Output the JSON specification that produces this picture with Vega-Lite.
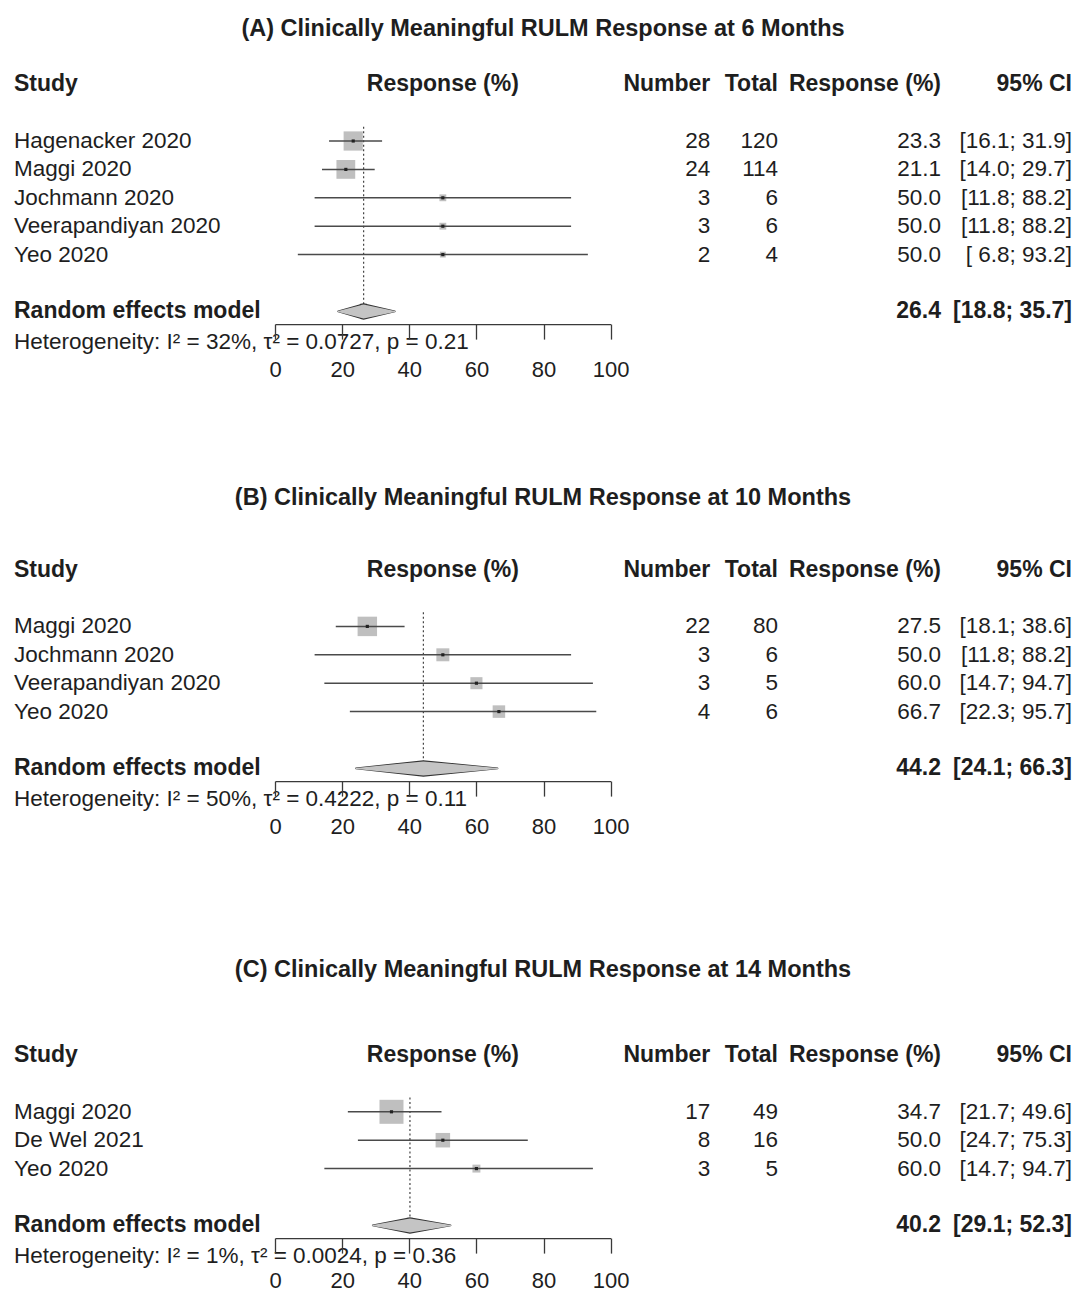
{
  "$schema": "https://vega.github.io/schema/vega-lite/v6.json",
  "background": "white",
  "padding": {"left": 14, "top": 17, "right": 3, "bottom": 0},
  "config": {
    "view": {"stroke": null},
    "font": "Liberation Sans",
    "text": {"font": "Liberation Sans", "fontSize": 22.5, "color": "#1e1e1e"},
    "title": {"font": "Liberation Sans", "fontSize": 23.5, "fontWeight": "bold", "color": "#1e1e1e", "anchor": "middle"},
    "axis": {"grid": false, "domainColor": "#3a3a3a", "domainWidth": 1.3, "tickColor": "#3a3a3a", "tickWidth": 1.3, "tickSize": 15, "labelFont": "Liberation Sans", "labelFontSize": 22, "labelColor": "#1e1e1e", "labelPadding": 20.5, "labelFlush": false, "labelOverlap": false}
  },
  "datasets": {
    "headers": [
      {"row": "header", "col": "study", "label": "Study"},
      {"row": "header", "col": "plot", "label": "Response (%)"},
      {"row": "header", "col": "number", "label": "Number"},
      {"row": "header", "col": "total", "label": "Total"},
      {"row": "header", "col": "resp", "label": "Response (%)"},
      {"row": "header", "col": "ci", "label": "95% CI"}
    ],
    "studiesA": [
      {"row": "Hagenacker 2020", "events": 28, "total": 120, "resp": 23.3, "lower": 16.1, "upper": 31.9, "ci": "[16.1; 31.9]", "weight": 43.5},
      {"row": "Maggi 2020", "events": 24, "total": 114, "resp": 21.1, "lower": 14.0, "upper": 29.7, "ci": "[14.0; 29.7]", "weight": 41.5},
      {"row": "Jochmann 2020", "events": 3, "total": 6, "resp": 50.0, "lower": 11.8, "upper": 88.2, "ci": "[11.8; 88.2]", "weight": 5.5},
      {"row": "Veerapandiyan 2020", "events": 3, "total": 6, "resp": 50.0, "lower": 11.8, "upper": 88.2, "ci": "[11.8; 88.2]", "weight": 5.5},
      {"row": "Yeo 2020", "events": 2, "total": 4, "resp": 50.0, "lower": 6.8, "upper": 93.2, "ci": "[ 6.8; 93.2]", "weight": 4.0}
    ],
    "pooledA": [
      {"row": "Random effects model", "resp": 26.4, "lower": 18.8, "upper": 35.7, "ci": "[18.8; 35.7]", "het": "Heterogeneity: I² = 32%, τ² = 0.0727, p = 0.21"}
    ],
    "studiesB": [
      {"row": "Maggi 2020", "events": 22, "total": 80, "resp": 27.5, "lower": 18.1, "upper": 38.6, "ci": "[18.1; 38.6]", "weight": 44.6},
      {"row": "Jochmann 2020", "events": 3, "total": 6, "resp": 50.0, "lower": 11.8, "upper": 88.2, "ci": "[11.8; 88.2]", "weight": 19.8},
      {"row": "Veerapandiyan 2020", "events": 3, "total": 5, "resp": 60.0, "lower": 14.7, "upper": 94.7, "ci": "[14.7; 94.7]", "weight": 17.2},
      {"row": "Yeo 2020", "events": 4, "total": 6, "resp": 66.7, "lower": 22.3, "upper": 95.7, "ci": "[22.3; 95.7]", "weight": 18.4}
    ],
    "pooledB": [
      {"row": "Random effects model", "resp": 44.2, "lower": 24.1, "upper": 66.3, "ci": "[24.1; 66.3]", "het": "Heterogeneity: I² = 50%, τ² = 0.4222, p = 0.11"}
    ],
    "studiesC": [
      {"row": "Maggi 2020", "events": 17, "total": 49, "resp": 34.7, "lower": 21.7, "upper": 49.6, "ci": "[21.7; 49.6]", "weight": 67.8},
      {"row": "De Wel 2021", "events": 8, "total": 16, "resp": 50.0, "lower": 24.7, "upper": 75.3, "ci": "[24.7; 75.3]", "weight": 24.8},
      {"row": "Yeo 2020", "events": 3, "total": 5, "resp": 60.0, "lower": 14.7, "upper": 94.7, "ci": "[14.7; 94.7]", "weight": 7.4}
    ],
    "pooledC": [
      {"row": "Random effects model", "resp": 40.2, "lower": 29.1, "upper": 52.3, "ci": "[29.1; 52.3]", "het": "Heterogeneity: I² = 1%, τ² = 0.0024, p = 0.36"}
    ]
  },
  "spacing": 119.8,
  "vconcat": [
    {
      "spacing": 105.4,
      "vconcat": [
        {
          "title": {"text": "(A) Clinically Meaningful RULM Response at 6 Months", "offset": 29.5},
          "spacing": 0,
          "bounds": "flush",
          "hconcat": [
            {
              "width": 261, "height": 255.6,
              "encoding": {"y": {"field": "row", "type": "nominal", "axis": null, "scale": {"type": "band", "paddingInner": 0, "paddingOuter": 0, "domain": ["header", "gap1", "Hagenacker 2020", "Maggi 2020", "Jochmann 2020", "Veerapandiyan 2020", "Yeo 2020", "gap2", "Random effects model"]}}},
              "layer": [
                {"data": {"name": "headers"}, "transform": [{"filter": "datum.col == 'study'"}], "mark": {"type": "text", "align": "left", "baseline": "middle", "fontWeight": "bold", "fontSize": 23}, "encoding": {"x": {"value": 0}, "text": {"field": "label"}}},
                {"data": {"name": "studiesA"}, "mark": {"type": "text", "align": "left", "baseline": "middle"}, "encoding": {"x": {"value": 0}, "text": {"field": "row"}}},
                {"data": {"name": "pooledA"}, "mark": {"type": "text", "align": "left", "baseline": "middle", "fontWeight": "bold", "fontSize": 23}, "encoding": {"x": {"value": 0}, "text": {"field": "row"}}},
                {"data": {"name": "pooledA"}, "mark": {"type": "text", "align": "left", "baseline": "middle", "dy": 31}, "encoding": {"x": {"value": 0}, "text": {"field": "het"}}}
              ]
            },
            {
              "width": 335.7, "height": 255.6,
              "encoding": {"y": {"field": "row", "type": "nominal", "axis": null, "scale": {"type": "band", "paddingInner": 0, "paddingOuter": 0, "domain": ["header", "gap1", "Hagenacker 2020", "Maggi 2020", "Jochmann 2020", "Veerapandiyan 2020", "Yeo 2020", "gap2", "Random effects model"]}}},
              "layer": [
                {"data": {"name": "headers"}, "transform": [{"filter": "datum.col == 'plot'"}], "mark": {"type": "text", "align": "center", "baseline": "middle", "fontWeight": "bold", "fontSize": 23}, "encoding": {"x": {"datum": 50, "type": "quantitative", "scale": {"domain": [0, 100]}, "title": null}, "text": {"field": "label"}}},
                {"data": {"name": "pooledA"}, "mark": {"type": "rule", "color": "#444444", "strokeWidth": 1.2, "strokeDash": [2, 2.5]},
                 "encoding": {"x": {"field": "resp", "type": "quantitative", "title": null},
                              "y": {"datum": "gap1", "type": "nominal", "bandPosition": 1, "axis": null, "scale": {"type": "band", "paddingInner": 0, "paddingOuter": 0, "domain": ["header", "gap1", "Hagenacker 2020", "Maggi 2020", "Jochmann 2020", "Veerapandiyan 2020", "Yeo 2020", "gap2", "Random effects model"]}},
                              "y2": {"datum": "Random effects model"}}},
                {"data": {"name": "studiesA"}, "mark": {"type": "point", "shape": "square", "filled": true, "color": "#bfbfbf", "opacity": 1},
                 "encoding": {"x": {"field": "resp", "type": "quantitative", "title": null, "axis": {"values": [0, 20, 40, 60, 80, 100], "offset": -1.5}},
                              "size": {"field": "weight", "type": "quantitative", "legend": null, "scale": {"range": [0, 576], "zero": true}}}},
                {"data": {"name": "studiesA"}, "mark": {"type": "rule", "color": "#4a4a4a", "strokeWidth": 1.5},
                 "encoding": {"x": {"field": "lower", "type": "quantitative", "title": null}, "x2": {"field": "upper"}}},
                {"data": {"name": "studiesA"}, "mark": {"type": "point", "shape": "square", "filled": true, "color": "#222222", "size": 10, "opacity": 1},
                 "encoding": {"x": {"field": "resp", "type": "quantitative", "title": null}}},
                {"data": {"name": "pooledA"}, "transform": [{"fold": ["lower", "resp", "upper"], "as": ["vertex", "value"]}],
                 "mark": {"type": "trail", "fill": "#333333"},
                 "encoding": {"x": {"field": "value", "type": "quantitative", "title": null},
                              "size": {"condition": {"test": "datum.vertex === 'resp'", "value": 16.5}, "value": 1.6},
                              "order": {"field": "value", "type": "quantitative"}}},
                {"data": {"name": "pooledA"}, "transform": [{"fold": ["lower", "resp", "upper"], "as": ["vertex", "value"]}],
                 "mark": {"type": "trail", "fill": "#c4c4c4"},
                 "encoding": {"x": {"field": "value", "type": "quantitative", "title": null},
                              "size": {"condition": {"test": "datum.vertex === 'resp'", "value": 14}, "value": 0},
                              "order": {"field": "value", "type": "quantitative"}}}
              ]
            },
            {
              "width": 99.3, "height": 255.6,
              "encoding": {"y": {"field": "row", "type": "nominal", "axis": null, "scale": {"type": "band", "paddingInner": 0, "paddingOuter": 0, "domain": ["header", "gap1", "Hagenacker 2020", "Maggi 2020", "Jochmann 2020", "Veerapandiyan 2020", "Yeo 2020", "gap2", "Random effects model"]}}},
              "layer": [
                {"data": {"name": "headers"}, "transform": [{"filter": "datum.col == 'number'"}], "mark": {"type": "text", "align": "right", "baseline": "middle", "fontWeight": "bold", "fontSize": 23}, "encoding": {"x": {"value": "width"}, "text": {"field": "label"}}},
                {"data": {"name": "studiesA"}, "mark": {"type": "text", "align": "right", "baseline": "middle"}, "encoding": {"x": {"value": "width"}, "text": {"field": "events", "type": "quantitative"}}}
              ]
            },
            {
              "width": 67, "height": 255.6,
              "encoding": {"y": {"field": "row", "type": "nominal", "axis": null, "scale": {"type": "band", "paddingInner": 0, "paddingOuter": 0, "domain": ["header", "gap1", "Hagenacker 2020", "Maggi 2020", "Jochmann 2020", "Veerapandiyan 2020", "Yeo 2020", "gap2", "Random effects model"]}}},
              "layer": [
                {"data": {"name": "headers"}, "transform": [{"filter": "datum.col == 'total'"}], "mark": {"type": "text", "align": "right", "baseline": "middle", "fontWeight": "bold", "fontSize": 23}, "encoding": {"x": {"value": "width"}, "text": {"field": "label"}}},
                {"data": {"name": "studiesA"}, "mark": {"type": "text", "align": "right", "baseline": "middle"}, "encoding": {"x": {"value": "width"}, "text": {"field": "total", "type": "quantitative"}}}
              ]
            },
            {
              "width": 163, "height": 255.6,
              "encoding": {"y": {"field": "row", "type": "nominal", "axis": null, "scale": {"type": "band", "paddingInner": 0, "paddingOuter": 0, "domain": ["header", "gap1", "Hagenacker 2020", "Maggi 2020", "Jochmann 2020", "Veerapandiyan 2020", "Yeo 2020", "gap2", "Random effects model"]}}},
              "layer": [
                {"data": {"name": "headers"}, "transform": [{"filter": "datum.col == 'resp'"}], "mark": {"type": "text", "align": "right", "baseline": "middle", "fontWeight": "bold", "fontSize": 23}, "encoding": {"x": {"value": "width"}, "text": {"field": "label"}}},
                {"data": {"name": "studiesA"}, "mark": {"type": "text", "align": "right", "baseline": "middle"}, "encoding": {"x": {"value": "width"}, "text": {"field": "resp", "type": "quantitative", "format": ".1f"}}},
                {"data": {"name": "pooledA"}, "mark": {"type": "text", "align": "right", "baseline": "middle", "fontWeight": "bold", "fontSize": 23}, "encoding": {"x": {"value": "width"}, "text": {"field": "resp", "type": "quantitative", "format": ".1f"}}}
              ]
            },
            {
              "width": 131, "height": 255.6,
              "encoding": {"y": {"field": "row", "type": "nominal", "axis": null, "scale": {"type": "band", "paddingInner": 0, "paddingOuter": 0, "domain": ["header", "gap1", "Hagenacker 2020", "Maggi 2020", "Jochmann 2020", "Veerapandiyan 2020", "Yeo 2020", "gap2", "Random effects model"]}}},
              "layer": [
                {"data": {"name": "headers"}, "transform": [{"filter": "datum.col == 'ci'"}], "mark": {"type": "text", "align": "right", "baseline": "middle", "fontWeight": "bold", "fontSize": 23}, "encoding": {"x": {"value": "width"}, "text": {"field": "label"}}},
                {"data": {"name": "studiesA"}, "mark": {"type": "text", "align": "right", "baseline": "middle"}, "encoding": {"x": {"value": "width"}, "text": {"field": "ci"}}},
                {"data": {"name": "pooledA"}, "mark": {"type": "text", "align": "right", "baseline": "middle", "fontWeight": "bold", "fontSize": 23}, "encoding": {"x": {"value": "width"}, "text": {"field": "ci"}}}
              ]
            }
          ]
        },
        {
          "title": {"text": "(B) Clinically Meaningful RULM Response at 10 Months", "offset": 45.5},
          "spacing": 0,
          "bounds": "flush",
          "hconcat": [
            {
              "width": 261, "height": 227.2,
              "encoding": {"y": {"field": "row", "type": "nominal", "axis": null, "scale": {"type": "band", "paddingInner": 0, "paddingOuter": 0, "domain": ["header", "gap1", "Maggi 2020", "Jochmann 2020", "Veerapandiyan 2020", "Yeo 2020", "gap2", "Random effects model"]}}},
              "layer": [
                {"data": {"name": "headers"}, "transform": [{"filter": "datum.col == 'study'"}], "mark": {"type": "text", "align": "left", "baseline": "middle", "fontWeight": "bold", "fontSize": 23}, "encoding": {"x": {"value": 0}, "text": {"field": "label"}}},
                {"data": {"name": "studiesB"}, "mark": {"type": "text", "align": "left", "baseline": "middle"}, "encoding": {"x": {"value": 0}, "text": {"field": "row"}}},
                {"data": {"name": "pooledB"}, "mark": {"type": "text", "align": "left", "baseline": "middle", "fontWeight": "bold", "fontSize": 23}, "encoding": {"x": {"value": 0}, "text": {"field": "row"}}},
                {"data": {"name": "pooledB"}, "mark": {"type": "text", "align": "left", "baseline": "middle", "dy": 31}, "encoding": {"x": {"value": 0}, "text": {"field": "het"}}}
              ]
            },
            {
              "width": 335.7, "height": 227.2,
              "encoding": {"y": {"field": "row", "type": "nominal", "axis": null, "scale": {"type": "band", "paddingInner": 0, "paddingOuter": 0, "domain": ["header", "gap1", "Maggi 2020", "Jochmann 2020", "Veerapandiyan 2020", "Yeo 2020", "gap2", "Random effects model"]}}},
              "layer": [
                {"data": {"name": "headers"}, "transform": [{"filter": "datum.col == 'plot'"}], "mark": {"type": "text", "align": "center", "baseline": "middle", "fontWeight": "bold", "fontSize": 23}, "encoding": {"x": {"datum": 50, "type": "quantitative", "scale": {"domain": [0, 100]}, "title": null}, "text": {"field": "label"}}},
                {"data": {"name": "pooledB"}, "mark": {"type": "rule", "color": "#444444", "strokeWidth": 1.2, "strokeDash": [2, 2.5]},
                 "encoding": {"x": {"field": "resp", "type": "quantitative", "title": null},
                              "y": {"datum": "gap1", "type": "nominal", "bandPosition": 1, "axis": null, "scale": {"type": "band", "paddingInner": 0, "paddingOuter": 0, "domain": ["header", "gap1", "Maggi 2020", "Jochmann 2020", "Veerapandiyan 2020", "Yeo 2020", "gap2", "Random effects model"]}},
                              "y2": {"datum": "Random effects model"}}},
                {"data": {"name": "studiesB"}, "mark": {"type": "point", "shape": "square", "filled": true, "color": "#bfbfbf", "opacity": 1},
                 "encoding": {"x": {"field": "resp", "type": "quantitative", "title": null, "axis": {"values": [0, 20, 40, 60, 80, 100], "offset": -1.5}},
                              "size": {"field": "weight", "type": "quantitative", "legend": null, "scale": {"range": [0, 576], "zero": true}}}},
                {"data": {"name": "studiesB"}, "mark": {"type": "rule", "color": "#4a4a4a", "strokeWidth": 1.5},
                 "encoding": {"x": {"field": "lower", "type": "quantitative", "title": null}, "x2": {"field": "upper"}}},
                {"data": {"name": "studiesB"}, "mark": {"type": "point", "shape": "square", "filled": true, "color": "#222222", "size": 10, "opacity": 1},
                 "encoding": {"x": {"field": "resp", "type": "quantitative", "title": null}}},
                {"data": {"name": "pooledB"}, "transform": [{"fold": ["lower", "resp", "upper"], "as": ["vertex", "value"]}],
                 "mark": {"type": "trail", "fill": "#333333"},
                 "encoding": {"x": {"field": "value", "type": "quantitative", "title": null},
                              "size": {"condition": {"test": "datum.vertex === 'resp'", "value": 16.5}, "value": 1.6},
                              "order": {"field": "value", "type": "quantitative"}}},
                {"data": {"name": "pooledB"}, "transform": [{"fold": ["lower", "resp", "upper"], "as": ["vertex", "value"]}],
                 "mark": {"type": "trail", "fill": "#c4c4c4"},
                 "encoding": {"x": {"field": "value", "type": "quantitative", "title": null},
                              "size": {"condition": {"test": "datum.vertex === 'resp'", "value": 14}, "value": 0},
                              "order": {"field": "value", "type": "quantitative"}}}
              ]
            },
            {
              "width": 99.3, "height": 227.2,
              "encoding": {"y": {"field": "row", "type": "nominal", "axis": null, "scale": {"type": "band", "paddingInner": 0, "paddingOuter": 0, "domain": ["header", "gap1", "Maggi 2020", "Jochmann 2020", "Veerapandiyan 2020", "Yeo 2020", "gap2", "Random effects model"]}}},
              "layer": [
                {"data": {"name": "headers"}, "transform": [{"filter": "datum.col == 'number'"}], "mark": {"type": "text", "align": "right", "baseline": "middle", "fontWeight": "bold", "fontSize": 23}, "encoding": {"x": {"value": "width"}, "text": {"field": "label"}}},
                {"data": {"name": "studiesB"}, "mark": {"type": "text", "align": "right", "baseline": "middle"}, "encoding": {"x": {"value": "width"}, "text": {"field": "events", "type": "quantitative"}}}
              ]
            },
            {
              "width": 67, "height": 227.2,
              "encoding": {"y": {"field": "row", "type": "nominal", "axis": null, "scale": {"type": "band", "paddingInner": 0, "paddingOuter": 0, "domain": ["header", "gap1", "Maggi 2020", "Jochmann 2020", "Veerapandiyan 2020", "Yeo 2020", "gap2", "Random effects model"]}}},
              "layer": [
                {"data": {"name": "headers"}, "transform": [{"filter": "datum.col == 'total'"}], "mark": {"type": "text", "align": "right", "baseline": "middle", "fontWeight": "bold", "fontSize": 23}, "encoding": {"x": {"value": "width"}, "text": {"field": "label"}}},
                {"data": {"name": "studiesB"}, "mark": {"type": "text", "align": "right", "baseline": "middle"}, "encoding": {"x": {"value": "width"}, "text": {"field": "total", "type": "quantitative"}}}
              ]
            },
            {
              "width": 163, "height": 227.2,
              "encoding": {"y": {"field": "row", "type": "nominal", "axis": null, "scale": {"type": "band", "paddingInner": 0, "paddingOuter": 0, "domain": ["header", "gap1", "Maggi 2020", "Jochmann 2020", "Veerapandiyan 2020", "Yeo 2020", "gap2", "Random effects model"]}}},
              "layer": [
                {"data": {"name": "headers"}, "transform": [{"filter": "datum.col == 'resp'"}], "mark": {"type": "text", "align": "right", "baseline": "middle", "fontWeight": "bold", "fontSize": 23}, "encoding": {"x": {"value": "width"}, "text": {"field": "label"}}},
                {"data": {"name": "studiesB"}, "mark": {"type": "text", "align": "right", "baseline": "middle"}, "encoding": {"x": {"value": "width"}, "text": {"field": "resp", "type": "quantitative", "format": ".1f"}}},
                {"data": {"name": "pooledB"}, "mark": {"type": "text", "align": "right", "baseline": "middle", "fontWeight": "bold", "fontSize": 23}, "encoding": {"x": {"value": "width"}, "text": {"field": "resp", "type": "quantitative", "format": ".1f"}}}
              ]
            },
            {
              "width": 131, "height": 227.2,
              "encoding": {"y": {"field": "row", "type": "nominal", "axis": null, "scale": {"type": "band", "paddingInner": 0, "paddingOuter": 0, "domain": ["header", "gap1", "Maggi 2020", "Jochmann 2020", "Veerapandiyan 2020", "Yeo 2020", "gap2", "Random effects model"]}}},
              "layer": [
                {"data": {"name": "headers"}, "transform": [{"filter": "datum.col == 'ci'"}], "mark": {"type": "text", "align": "right", "baseline": "middle", "fontWeight": "bold", "fontSize": 23}, "encoding": {"x": {"value": "width"}, "text": {"field": "label"}}},
                {"data": {"name": "studiesB"}, "mark": {"type": "text", "align": "right", "baseline": "middle"}, "encoding": {"x": {"value": "width"}, "text": {"field": "ci"}}},
                {"data": {"name": "pooledB"}, "mark": {"type": "text", "align": "right", "baseline": "middle", "fontWeight": "bold", "fontSize": 23}, "encoding": {"x": {"value": "width"}, "text": {"field": "ci"}}}
              ]
            }
          ]
        }
      ]
    },
    {
      "title": {"text": "(C) Clinically Meaningful RULM Response at 14 Months", "offset": 59.5},
      "spacing": 0,
      "bounds": "flush",
      "hconcat": [
        {
          "width": 261, "height": 198.8,
          "encoding": {"y": {"field": "row", "type": "nominal", "axis": null, "scale": {"type": "band", "paddingInner": 0, "paddingOuter": 0, "domain": ["header", "gap1", "Maggi 2020", "De Wel 2021", "Yeo 2020", "gap2", "Random effects model"]}}},
          "layer": [
            {"data": {"name": "headers"}, "transform": [{"filter": "datum.col == 'study'"}], "mark": {"type": "text", "align": "left", "baseline": "middle", "fontWeight": "bold", "fontSize": 23}, "encoding": {"x": {"value": 0}, "text": {"field": "label"}}},
            {"data": {"name": "studiesC"}, "mark": {"type": "text", "align": "left", "baseline": "middle"}, "encoding": {"x": {"value": 0}, "text": {"field": "row"}}},
            {"data": {"name": "pooledC"}, "mark": {"type": "text", "align": "left", "baseline": "middle", "fontWeight": "bold", "fontSize": 23}, "encoding": {"x": {"value": 0}, "text": {"field": "row"}}},
            {"data": {"name": "pooledC"}, "mark": {"type": "text", "align": "left", "baseline": "middle", "dy": 31}, "encoding": {"x": {"value": 0}, "text": {"field": "het"}}}
          ]
        },
        {
          "width": 335.7, "height": 198.8,
          "encoding": {"y": {"field": "row", "type": "nominal", "axis": null, "scale": {"type": "band", "paddingInner": 0, "paddingOuter": 0, "domain": ["header", "gap1", "Maggi 2020", "De Wel 2021", "Yeo 2020", "gap2", "Random effects model"]}}},
          "layer": [
            {"data": {"name": "headers"}, "transform": [{"filter": "datum.col == 'plot'"}], "mark": {"type": "text", "align": "center", "baseline": "middle", "fontWeight": "bold", "fontSize": 23}, "encoding": {"x": {"datum": 50, "type": "quantitative", "scale": {"domain": [0, 100]}, "title": null}, "text": {"field": "label"}}},
            {"data": {"name": "pooledC"}, "mark": {"type": "rule", "color": "#444444", "strokeWidth": 1.2, "strokeDash": [2, 2.5]},
             "encoding": {"x": {"field": "resp", "type": "quantitative", "title": null},
                          "y": {"datum": "gap1", "type": "nominal", "bandPosition": 1, "axis": null, "scale": {"type": "band", "paddingInner": 0, "paddingOuter": 0, "domain": ["header", "gap1", "Maggi 2020", "De Wel 2021", "Yeo 2020", "gap2", "Random effects model"]}},
                          "y2": {"datum": "Random effects model"}}},
            {"data": {"name": "studiesC"}, "mark": {"type": "point", "shape": "square", "filled": true, "color": "#bfbfbf", "opacity": 1},
             "encoding": {"x": {"field": "resp", "type": "quantitative", "title": null, "axis": {"values": [0, 20, 40, 60, 80, 100], "offset": -1.5, "labelPadding": 17}},
                          "size": {"field": "weight", "type": "quantitative", "legend": null, "scale": {"range": [0, 576], "zero": true}}}},
            {"data": {"name": "studiesC"}, "mark": {"type": "rule", "color": "#4a4a4a", "strokeWidth": 1.5},
             "encoding": {"x": {"field": "lower", "type": "quantitative", "title": null}, "x2": {"field": "upper"}}},
            {"data": {"name": "studiesC"}, "mark": {"type": "point", "shape": "square", "filled": true, "color": "#222222", "size": 10, "opacity": 1},
             "encoding": {"x": {"field": "resp", "type": "quantitative", "title": null}}},
            {"data": {"name": "pooledC"}, "transform": [{"fold": ["lower", "resp", "upper"], "as": ["vertex", "value"]}],
             "mark": {"type": "trail", "fill": "#333333"},
             "encoding": {"x": {"field": "value", "type": "quantitative", "title": null},
                          "size": {"condition": {"test": "datum.vertex === 'resp'", "value": 16.5}, "value": 1.6},
                          "order": {"field": "value", "type": "quantitative"}}},
            {"data": {"name": "pooledC"}, "transform": [{"fold": ["lower", "resp", "upper"], "as": ["vertex", "value"]}],
             "mark": {"type": "trail", "fill": "#c4c4c4"},
             "encoding": {"x": {"field": "value", "type": "quantitative", "title": null},
                          "size": {"condition": {"test": "datum.vertex === 'resp'", "value": 14}, "value": 0},
                          "order": {"field": "value", "type": "quantitative"}}}
          ]
        },
        {
          "width": 99.3, "height": 198.8,
          "encoding": {"y": {"field": "row", "type": "nominal", "axis": null, "scale": {"type": "band", "paddingInner": 0, "paddingOuter": 0, "domain": ["header", "gap1", "Maggi 2020", "De Wel 2021", "Yeo 2020", "gap2", "Random effects model"]}}},
          "layer": [
            {"data": {"name": "headers"}, "transform": [{"filter": "datum.col == 'number'"}], "mark": {"type": "text", "align": "right", "baseline": "middle", "fontWeight": "bold", "fontSize": 23}, "encoding": {"x": {"value": "width"}, "text": {"field": "label"}}},
            {"data": {"name": "studiesC"}, "mark": {"type": "text", "align": "right", "baseline": "middle"}, "encoding": {"x": {"value": "width"}, "text": {"field": "events", "type": "quantitative"}}}
          ]
        },
        {
          "width": 67, "height": 198.8,
          "encoding": {"y": {"field": "row", "type": "nominal", "axis": null, "scale": {"type": "band", "paddingInner": 0, "paddingOuter": 0, "domain": ["header", "gap1", "Maggi 2020", "De Wel 2021", "Yeo 2020", "gap2", "Random effects model"]}}},
          "layer": [
            {"data": {"name": "headers"}, "transform": [{"filter": "datum.col == 'total'"}], "mark": {"type": "text", "align": "right", "baseline": "middle", "fontWeight": "bold", "fontSize": 23}, "encoding": {"x": {"value": "width"}, "text": {"field": "label"}}},
            {"data": {"name": "studiesC"}, "mark": {"type": "text", "align": "right", "baseline": "middle"}, "encoding": {"x": {"value": "width"}, "text": {"field": "total", "type": "quantitative"}}}
          ]
        },
        {
          "width": 163, "height": 198.8,
          "encoding": {"y": {"field": "row", "type": "nominal", "axis": null, "scale": {"type": "band", "paddingInner": 0, "paddingOuter": 0, "domain": ["header", "gap1", "Maggi 2020", "De Wel 2021", "Yeo 2020", "gap2", "Random effects model"]}}},
          "layer": [
            {"data": {"name": "headers"}, "transform": [{"filter": "datum.col == 'resp'"}], "mark": {"type": "text", "align": "right", "baseline": "middle", "fontWeight": "bold", "fontSize": 23}, "encoding": {"x": {"value": "width"}, "text": {"field": "label"}}},
            {"data": {"name": "studiesC"}, "mark": {"type": "text", "align": "right", "baseline": "middle"}, "encoding": {"x": {"value": "width"}, "text": {"field": "resp", "type": "quantitative", "format": ".1f"}}},
            {"data": {"name": "pooledC"}, "mark": {"type": "text", "align": "right", "baseline": "middle", "fontWeight": "bold", "fontSize": 23}, "encoding": {"x": {"value": "width"}, "text": {"field": "resp", "type": "quantitative", "format": ".1f"}}}
          ]
        },
        {
          "width": 131, "height": 198.8,
          "encoding": {"y": {"field": "row", "type": "nominal", "axis": null, "scale": {"type": "band", "paddingInner": 0, "paddingOuter": 0, "domain": ["header", "gap1", "Maggi 2020", "De Wel 2021", "Yeo 2020", "gap2", "Random effects model"]}}},
          "layer": [
            {"data": {"name": "headers"}, "transform": [{"filter": "datum.col == 'ci'"}], "mark": {"type": "text", "align": "right", "baseline": "middle", "fontWeight": "bold", "fontSize": 23}, "encoding": {"x": {"value": "width"}, "text": {"field": "label"}}},
            {"data": {"name": "studiesC"}, "mark": {"type": "text", "align": "right", "baseline": "middle"}, "encoding": {"x": {"value": "width"}, "text": {"field": "ci"}}},
            {"data": {"name": "pooledC"}, "mark": {"type": "text", "align": "right", "baseline": "middle", "fontWeight": "bold", "fontSize": 23}, "encoding": {"x": {"value": "width"}, "text": {"field": "ci"}}}
          ]
        }
      ]
    }
  ]
}
